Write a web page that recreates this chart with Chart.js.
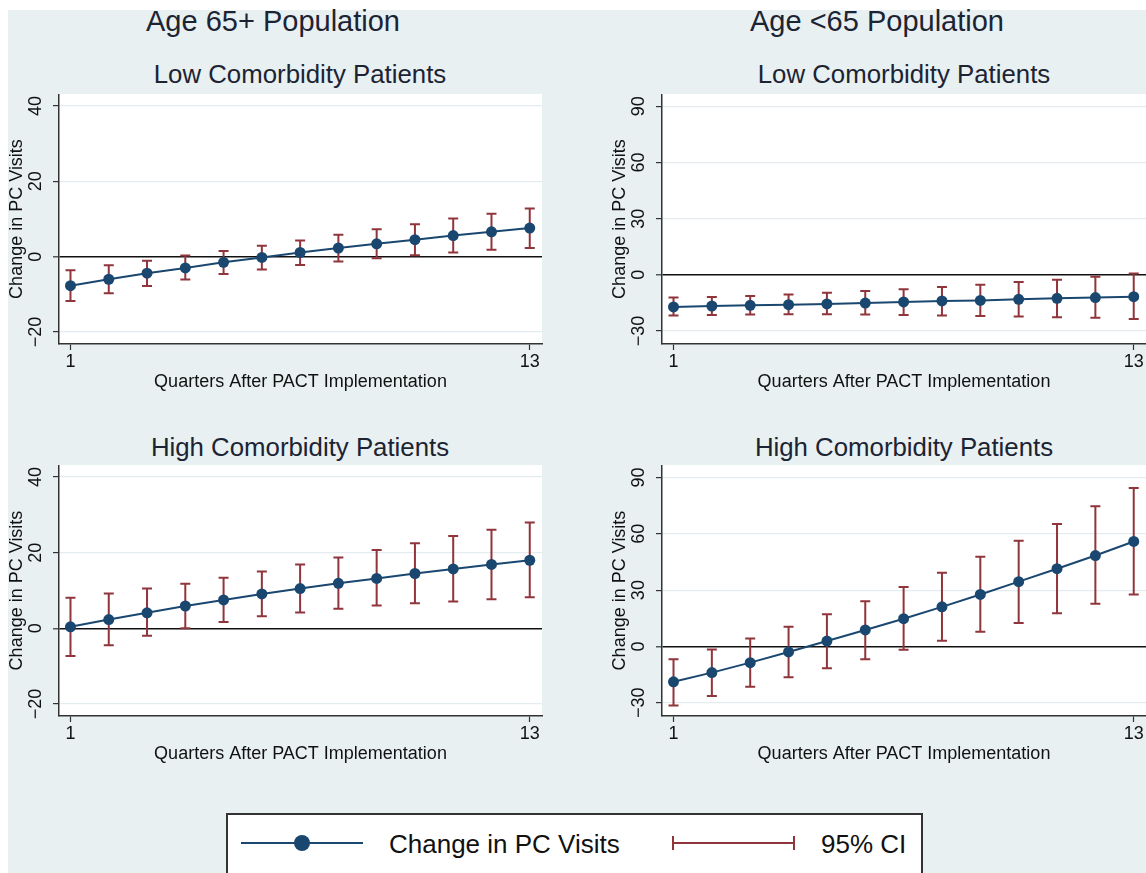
<!DOCTYPE html>
<html>
<head>
<meta charset="utf-8">
<script src="https://cdn.jsdelivr.net/npm/chart.js@4.4.1/dist/chart.umd.min.js"></script>
<style>
  html, body { margin:0; padding:0; background:#ffffff; width:1146px; height:873px; overflow:hidden; font-family:"Liberation Sans", Arial, Helvetica, sans-serif; }
  #bg { position:absolute; left:8px; top:10px; width:1138px; height:863px; background:#e8f0f2; }
  .t { position:absolute; white-space:nowrap; color:#1c2433; transform:translateX(-50%); }
  .main { font-size:29px; line-height:29px; top:7px; }
  .sub { font-size:25.8px; line-height:26px; }
  canvas { position:absolute; }
  #legend { position:absolute; left:226px; top:813px; width:697px; height:70px; background:#fff; border:2px solid #333; box-sizing:border-box; }
  .lg { position:absolute; }
  .lgtext { position:absolute; font-size:26px; line-height:26px; color:#111; white-space:nowrap; }
</style>
</head>
<body>
<div id="bg"></div>
<div class="t main" style="left:273px;">Age 65+ Population</div>
<div class="t main" style="left:877px;">Age &lt;65 Population</div>
<div class="t sub" style="left:300px; top:61px;">Low Comorbidity Patients</div>
<div class="t sub" style="left:904px; top:61px;">Low Comorbidity Patients</div>
<div class="t sub" style="left:300px; top:434px;">High Comorbidity Patients</div>
<div class="t sub" style="left:904px; top:434px;">High Comorbidity Patients</div>

<canvas id="c1" width="560" height="302" style="left:0px; top:94px;"></canvas>
<canvas id="c2" width="543" height="302" style="left:603px; top:94px;"></canvas>
<canvas id="c3" width="560" height="303" style="left:0px; top:465px;"></canvas>
<canvas id="c4" width="543" height="303" style="left:603px; top:465px;"></canvas>

<div id="legend"></div>
<div class="lg" style="left:241px; top:842px; width:122px; height:2px; background:#1a476f;"></div>
<div class="lg" style="left:294px; top:835px; width:16px; height:16px; border-radius:50%; background:#1a476f;"></div>
<div class="lgtext" style="left:389px; top:831px;">Change in PC Visits</div>
<div class="lg" style="left:672px; top:842px; width:123px; height:2px; background:#90353b;"></div>
<div class="lg" style="left:672px; top:836px; width:2px; height:14px; background:#90353b;"></div>
<div class="lg" style="left:793px; top:836px; width:2px; height:14px; background:#90353b;"></div>
<div class="lgtext" style="left:821px; top:831px;">95% CI</div>

<script>
// ---- Data ----
const quarters = [1,2,3,4,5,6,7,8,9,10,11,12,13];
const xTicks = [1, 13];
const yTicksOld = [-20, 0, 20, 40];
const yTicksYoung = [-30, 0, 30, 60, 90];

// Age 65+, Low comorbidity
const oldLowEst = [-7.7,-6.0,-4.4,-3.0,-1.5,-0.2,1.1,2.3,3.4,4.5,5.6,6.6,7.6];
const oldLowLo  = [-11.8,-9.7,-7.8,-6.1,-4.6,-3.4,-2.2,-1.3,-0.4,0.4,1.1,1.8,2.3];
const oldLowHi  = [-3.6,-2.3,-1.1,0.3,1.5,2.9,4.3,5.8,7.3,8.6,10.1,11.4,12.8];

// Age <65, Low comorbidity
const youngLowEst = [-17.2,-16.7,-16.3,-16.0,-15.6,-15.1,-14.5,-14.0,-13.7,-13.1,-12.6,-12.2,-11.7];
const youngLowLo  = [-21.8,-21.5,-21.3,-21.1,-21.1,-21.3,-21.5,-21.8,-22.0,-22.3,-22.7,-23.0,-23.6];
const youngLowHi  = [-12.2,-11.9,-11.3,-10.6,-9.6,-8.7,-7.8,-6.6,-5.3,-3.9,-2.7,-1.1,0.7];

// Age 65+, High comorbidity
const oldHighEst = [0.4,2.3,4.1,5.9,7.5,9.1,10.5,11.9,13.2,14.5,15.7,16.9,18.0];
const oldHighLo  = [-7.3,-4.5,-2.0,0.0,1.7,3.2,4.2,5.2,6.0,6.6,7.1,7.7,8.2];
const oldHighHi  = [8.1,9.2,10.5,11.8,13.4,15.0,16.9,18.7,20.7,22.5,24.4,26.1,28.0];

// Age <65, High comorbidity
const youngHighEst = [-18.8,-13.9,-8.6,-2.9,2.9,8.8,14.8,21.1,27.7,34.5,41.4,48.4,55.9];
const youngHighLo  = [-31.4,-26.3,-21.4,-16.4,-11.6,-6.8,-1.8,3.0,7.9,12.5,17.7,22.7,27.7];
const youngHighHi  = [-6.8,-1.6,4.3,10.5,17.1,24.1,31.6,39.3,47.7,56.3,65.2,74.6,84.3];

// ---- Styles ----
const NAVY = '#1a476f';
const MAROON = '#90353b';
const FONT = '"Liberation Sans", Arial, Helvetica, sans-serif';

const plotBg = {
  id: 'plotBg',
  beforeDraw(chart) {
    const {ctx, chartArea: a} = chart;
    ctx.save();
    ctx.fillStyle = '#ffffff';
    ctx.fillRect(a.left, a.top, a.right - a.left, a.bottom - a.top);
    ctx.restore();
  }
};

const errorBars = {
  id: 'errorBars',
  beforeDatasetsDraw(chart, args, opts) {
    const {ctx} = chart;
    const xs = chart.scales.x, ys = chart.scales.y;
    ctx.save();
    ctx.strokeStyle = MAROON;
    ctx.lineWidth = 2;
    const cap = 5;
    opts.x.forEach((q, i) => {
      const px = xs.getPixelForValue(q);
      const pl = ys.getPixelForValue(opts.lo[i]);
      const ph = ys.getPixelForValue(opts.hi[i]);
      ctx.beginPath();
      ctx.moveTo(px, pl); ctx.lineTo(px, ph);
      ctx.moveTo(px - cap, pl); ctx.lineTo(px + cap, pl);
      ctx.moveTo(px - cap, ph); ctx.lineTo(px + cap, ph);
      ctx.stroke();
    });
    ctx.restore();
  }
};

function fmt(v) { return v < 0 ? '\u2212' + Math.abs(v) : String(v); }

function makePanel(id, est, lo, hi, yMin, yMax, yTicks, rightPad) {
  const ctx = document.getElementById(id);
  return new Chart(ctx, {
    type: 'line',
    data: {
      datasets: [{
        data: quarters.map((q, i) => ({x: q, y: est[i]})),
        borderColor: NAVY,
        backgroundColor: NAVY,
        borderWidth: 2,
        pointRadius: 5.5,
        pointBackgroundColor: NAVY,
        pointBorderWidth: 0,
        tension: 0,
        clip: false
      }]
    },
    options: {
      responsive: false,
      animation: false,
      devicePixelRatio: 1,
      events: [],
      layout: { autoPadding: false, padding: { left: 0, right: rightPad, top: 0, bottom: 0 } },
      plugins: {
        legend: { display: false },
        tooltip: { enabled: false },
        errorBars: { x: quarters, lo: lo, hi: hi }
      },
      scales: {
        x: {
          type: 'linear',
          min: 0.7, max: 13.32,
          afterBuildTicks: s => { s.ticks = xTicks.map(v => ({value: v})); },
          afterFit: s => { s.height = 52; s.paddingLeft = 0; s.paddingRight = 0; s.paddingTop = 0; s.paddingBottom = 0; },
          ticks: { callback: v => fmt(v), color: '#111', font: { family: FONT, size: 18, lineHeight: 1 }, padding: 3, maxRotation: 0, autoSkip: false },
          grid: { drawOnChartArea: false, drawTicks: true, tickLength: 6, tickColor: '#333', tickWidth: 1.2 },
          border: { display: true, color: '#333', width: 1.5 },
          title: { display: true, text: 'Quarters After PACT Implementation', color: '#111', font: { family: FONT, size: 18, lineHeight: 1 }, padding: { top: 0, bottom: 5 } }
        },
        y: {
          type: 'linear',
          min: yMin, max: yMax,
          afterBuildTicks: s => { s.ticks = yTicks.map(v => ({value: v})); },
          afterFit: s => { s.width = 59; s.paddingTop = 0; s.paddingBottom = 0; s.paddingLeft = 0; s.paddingRight = 0; },
          ticks: { callback: v => fmt(v), color: '#111', font: { family: FONT, size: 18, lineHeight: 1 }, padding: 2, minRotation: 90, maxRotation: 90, crossAlign: 'center', autoSkip: false },
          grid: {
            drawOnChartArea: true, drawTicks: true, tickLength: 6, tickColor: '#333', tickWidth: 1.2,
            color: c => (c.tick && c.tick.value === 0) ? '#111' : '#e4ecef',
            lineWidth: c => (c.tick && c.tick.value === 0) ? 1.6 : 1.2
          },
          border: { display: true, color: '#333', width: 1.5 },
          title: { display: true, text: 'Change in PC Visits', color: '#111', font: { family: FONT, size: 18, lineHeight: 1 }, padding: { top: 8, bottom: 0 } }
        }
      }
    },
    plugins: [plotBg, errorBars]
  });
}

makePanel('c1', oldLowEst, oldLowLo, oldLowHi, -23.2, 43.2, yTicksOld, 18);
makePanel('c2', youngLowEst, youngLowLo, youngLowHi, -37, 96.6, yTicksYoung, 0);
makePanel('c3', oldHighEst, oldHighLo, oldHighHi, -23.2, 43.2, yTicksOld, 18);
makePanel('c4', youngHighEst, youngHighLo, youngHighHi, -37, 96.6, yTicksYoung, 0);
</script>
</body>
</html>
